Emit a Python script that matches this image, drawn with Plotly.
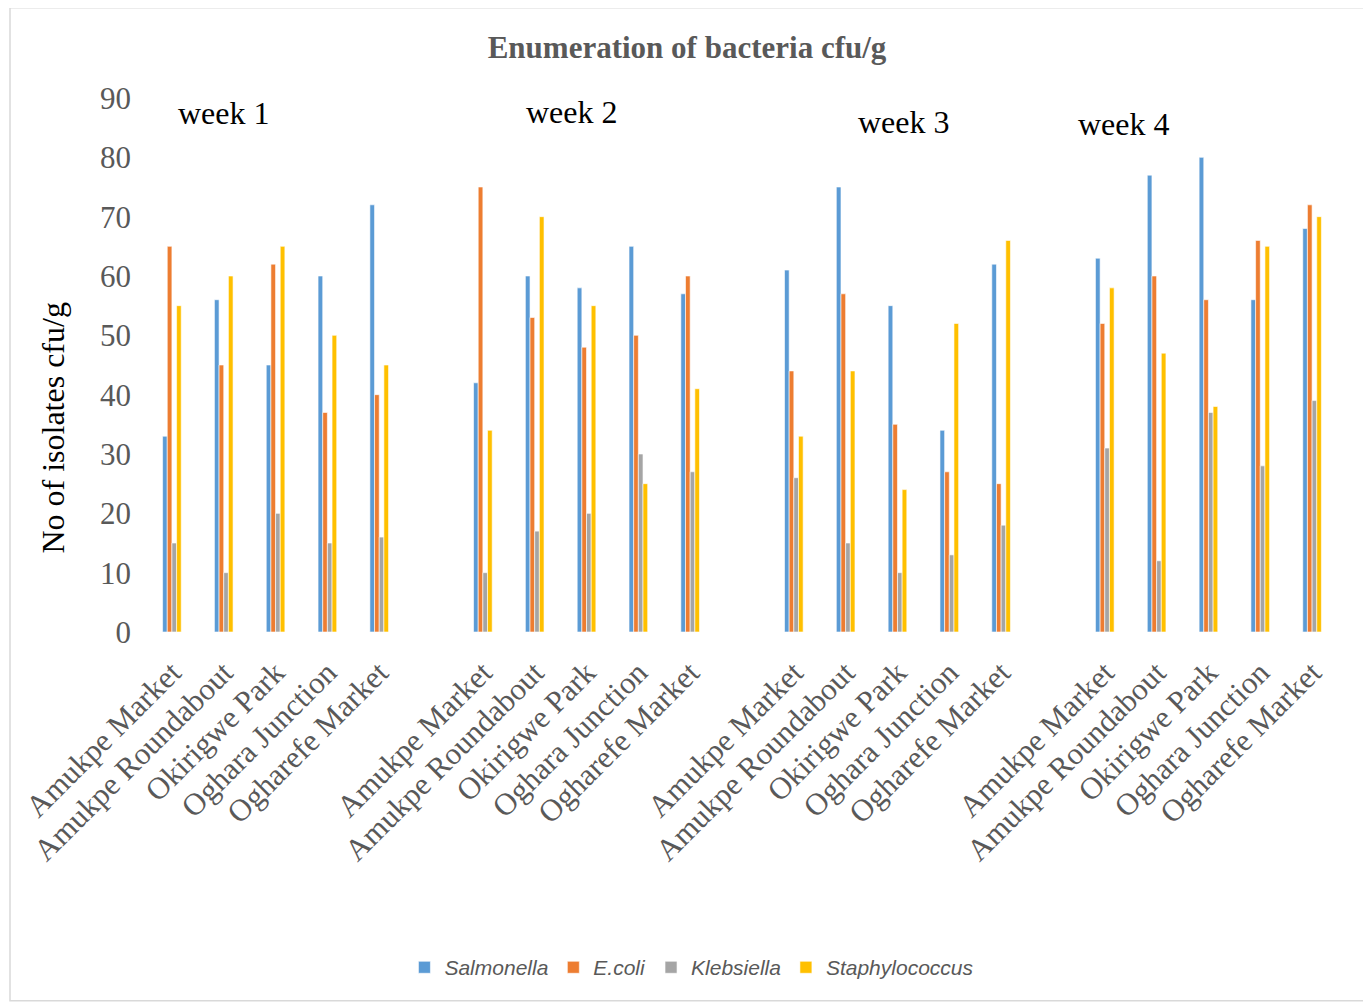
import plotly.graph_objects as go

sites = ["Amukpe Market", "Amukpe Roundabout", "Okirigwe Park", "Oghara Junction", "Ogharefe Market"]
weeks = ["week 1", "week 2", "week 3", "week 4"]

salmonella = [33, 56, 45, 60, 72,
              42, 60, 58, 65, 57,
              61, 75, 55, 34, 62,
              63, 77, 80, 56, 68]
ecoli = [65, 45, 62, 37, 40,
         75, 53, 48, 50, 60,
         44, 57, 35, 27, 25,
         52, 60, 56, 66, 72]
klebsiella = [15, 10, 20, 15, 16,
              10, 17, 20, 30, 27,
              26, 15, 10, 13, 18,
              31, 12, 37, 28, 39]
staphylococcus = [55, 60, 65, 50, 45,
                  34, 70, 55, 25, 41,
                  33, 44, 24, 52, 66,
                  58, 47, 38, 65, 70]

series = [("Salmonella", salmonella, "#5B9BD5"),
          ("E.coli", ecoli, "#ED7D31"),
          ("Klebsiella", klebsiella, "#A5A5A5"),
          ("Staphylococcus", staphylococcus, "#FFC000")]

# one empty slot between weeks
xpos = [w * (len(sites) + 1) + i for w in range(len(weeks)) for i in range(len(sites))]
ticktext = [s for _ in weeks for s in sites]

fig = go.Figure()
for name, vals, col in series:
    fig.add_trace(go.Bar(x=xpos, y=vals, name=name, marker_color=col,
                         marker_line=dict(color="white", width=0.6)))

SERIF = "Liberation Serif, Times New Roman, serif"

W, H = 1363, 994
fig.update_layout(
    width=W, height=H,
    barmode="group", bargap=0.64, bargroupgap=0.0,
    plot_bgcolor="white", paper_bgcolor="white",
    margin=dict(l=138, r=33, t=90, b=370, autoexpand=False),
    title=dict(text="<b>Enumeration of bacteria cfu/g</b>", x=(687 - 8) / W, xanchor="center",
               y=1 - 39 / H, yanchor="middle", yref="container",
               font=dict(family=SERIF, size=31, color="#595959")),
    xaxis=dict(range=[-0.5, 22.5], tickmode="array", tickvals=xpos, ticktext=ticktext,
               tickangle=-45, showgrid=False, zeroline=False, showline=False,
               ticks="outside", ticklen=9, tickcolor="rgba(0,0,0,0)", automargin=False,
               tickfont=dict(family=SERIF, size=31, color="#595959")),
    yaxis=dict(range=[0, 90], dtick=10, showgrid=False, zeroline=False, showline=False,
               ticks="", ticklabelstandoff=14, automargin=False,
               tickfont=dict(family=SERIF, size=31, color="#595959")),
    showlegend=True,
    legend=dict(orientation="h", x=0.458, xanchor="center", y=-0.6285, yanchor="middle",
                font=dict(family="Liberation Sans, Arial, sans-serif", size=21, color="#595959",
                          style="italic"),
                itemwidth=30, tracegroupgap=0),
)

week_pos = [(1.0, 87.5), (7.72, 87.6), (14.13, 85.95), (18.38, 85.6)]
for label, (wx, wy) in zip(weeks, week_pos):
    fig.add_annotation(x=wx, y=wy, xref="x", yref="y", text=label, showarrow=False,
                       font=dict(family=SERIF, size=32, color="black"),
                       xanchor="center", yanchor="middle")

fig.add_annotation(x=(53 - 146) / 1192, y=(631 - 427) / 533, xref="paper", yref="paper",
                   text="No of isolates cfu/g", textangle=-90, showarrow=False,
                   font=dict(family=SERIF, size=32, color="black"),
                   xanchor="center", yanchor="middle")

fig.add_shape(type="rect", xref="paper", yref="paper",
              x0=(10 - 146) / 1192, x1=(1365 - 146) / 1192,
              y0=(631 - 999) / 533, y1=(631 - 8) / 533,
              line=dict(color="#D9D9D9", width=1.5), fillcolor="rgba(0,0,0,0)", layer="below")

fig.write_html("out.html")
